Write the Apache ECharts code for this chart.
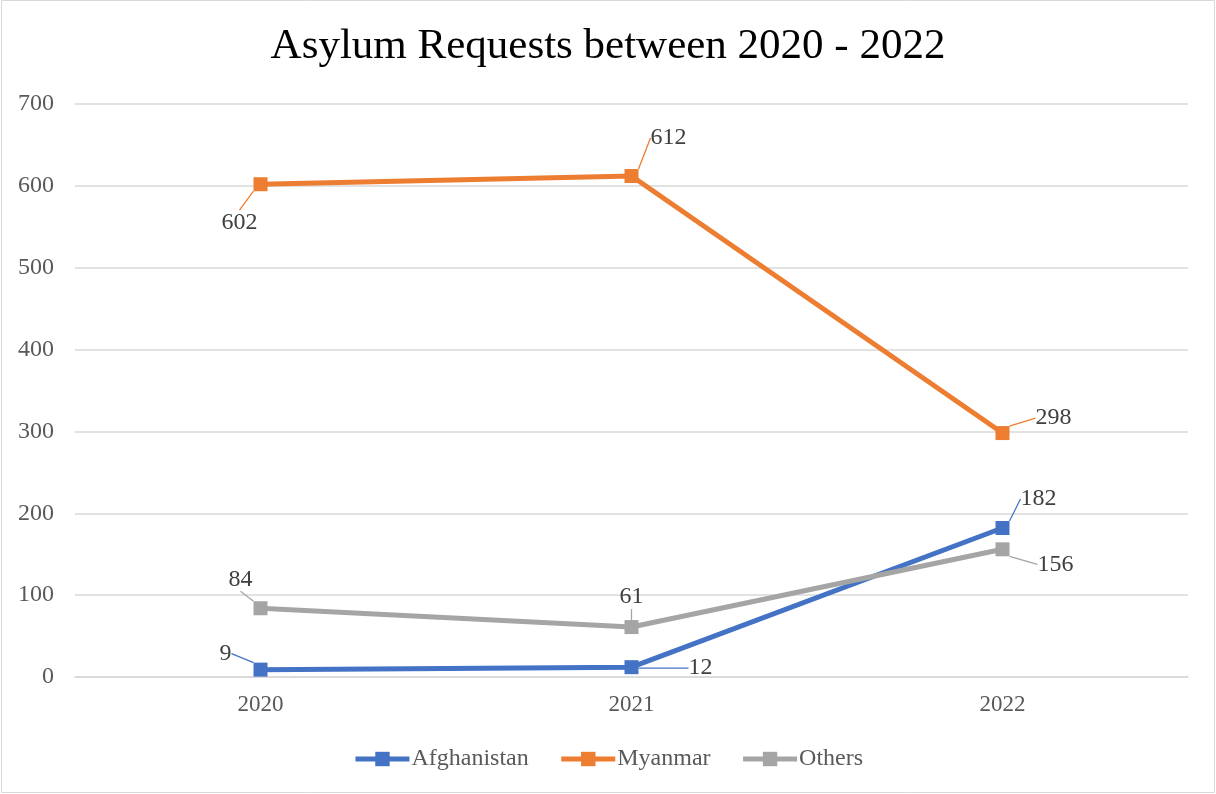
<!DOCTYPE html>
<html>
<head>
<meta charset="utf-8">
<script src="https://cdn.jsdelivr.net/npm/echarts@6/dist/echarts.min.js"></script>
<style>
html,body{margin:0;padding:0;background:#fff;}
#chart{width:1216px;height:794px;}
</style>
</head>
<body>
<div id="chart"></div>
<script>
const categories = ['2020', '2021', '2022'];
const afghanistan = [9, 12, 182];
const myanmar = [602, 612, 298];
const others = [84, 61, 156];
const seriesNames = ['Afghanistan', 'Myanmar', 'Others'];

const colors = ['#4472C4', '#ED7D31', '#A5A5A5'];
// label offsets (label centre relative to point), per series
const labelOffsets = [
  [[-35, -16], [69, 1], [36, -29]],
  [[-21, 38], [37, -38], [51, -15]],
  [[-20, -29], [0, -30], [53, 15]]
];
const FONT = '"Liberation Serif", "Times New Roman", serif';

const chart = echarts.init(document.getElementById('chart'));

function mkSeries(name, data, idx) {
  return {
    name: name,
    type: 'line',
    data: data,
    symbol: 'rect',
    symbolSize: 14,
    lineStyle: { width: 5, color: colors[idx] },
    itemStyle: { color: colors[idx] },
    emphasis: { disabled: true },
    animation: false,
    label: {
      show: true,
      position: 'inside',
      color: '#404040',
      fontFamily: FONT,
      fontSize: 24
    },
    labelLine: {
      show: true,
      lineStyle: { color: colors[idx], width: 1.3 }
    },
    labelLayout: function (p) {
      const o = labelOffsets[idx][p.dataIndex];
      return { dx: o[0], dy: o[1] };
    }
  };
}

chart.setOption({
  animation: false,
  color: colors,
  title: {
    text: 'Asylum Requests between 2020 - 2022',
    left: 'center',
    top: 20,
    textStyle: { fontFamily: FONT, fontSize: 43, fontWeight: 'normal', color: '#000' }
  },
  grid: { left: 75, right: 28, top: 104, bottom: 117, containLabel: false },
  legend: {
    bottom: 18,
    left: 'center',
    itemWidth: 54,
    itemHeight: 18,
    itemGap: 30,
    lineStyle: { width: 5 },
    textStyle: { fontFamily: FONT, fontSize: 24, color: '#595959', padding: [0, 0, 0, -3] },
    data: seriesNames
  },
  xAxis: {
    type: 'category',
    data: categories,
    boundaryGap: true,
    axisLine: { lineStyle: { color: '#d9d9d9', width: 1.5 } },
    axisTick: { show: false },
    axisLabel: { fontFamily: FONT, fontSize: 23, color: '#595959', margin: 16 }
  },
  yAxis: {
    type: 'value',
    min: 0,
    max: 700,
    interval: 100,
    axisLine: { show: false },
    axisTick: { show: false },
    splitLine: { lineStyle: { color: '#d9d9d9', width: 1.5 } },
    axisLabel: { fontFamily: FONT, fontSize: 24, color: '#595959', margin: 21 }
  },
  graphic: [{
    type: 'rect',
    shape: { x: 1.5, y: 0.5, width: 1213, height: 792 },
    style: { fill: 'none', stroke: '#d9d9d9', lineWidth: 1 },
    silent: true
  }],
  series: [
    mkSeries(seriesNames[0], afghanistan, 0),
    mkSeries(seriesNames[1], myanmar, 1),
    mkSeries(seriesNames[2], others, 2)
  ]
});
</script>
</body>
</html>
